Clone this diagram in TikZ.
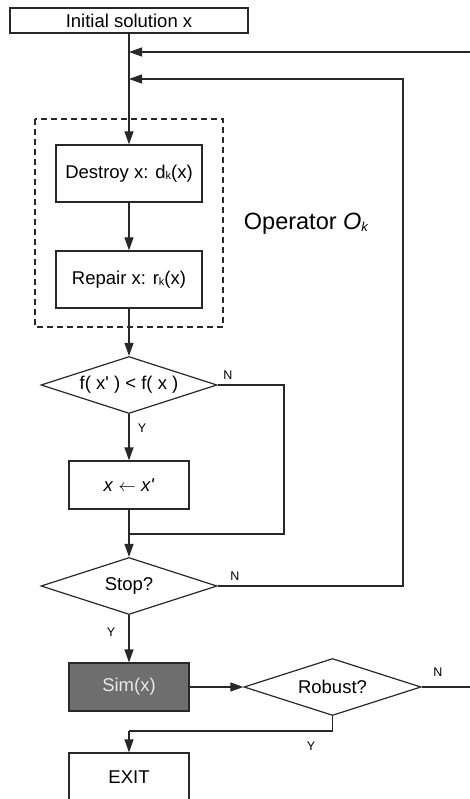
\documentclass[tikz,border=0pt]{standalone}
\usepackage{fontspec}
\setmainfont{Liberation Sans}
\usepackage{xcolor}
\usepackage{tikz}
\usetikzlibrary{shapes,shapes.geometric,arrows.meta,positioning,calc}
\definecolor{linegray}{RGB}{40, 40, 40}
\definecolor{simfill}{RGB}{110, 110, 110}
\definecolor{simtext}{RGB}{232, 232, 232}
\newcommand{\subk}{\raisebox{-1pt}{\fontsize{11}{11}\selectfont k}}

\begin{document}
\begin{tikzpicture}[x=1pt, y=-1pt,
    line width=1.2pt, draw=linegray,
    every node/.style={font=\fontsize{18.5}{22}\selectfont},
    procbox/.style={draw=linegray, rectangle, inner sep=0pt, minimum width=146pt, minimum height=57pt},
    smallbox/.style={draw=linegray, rectangle, inner sep=0pt, minimum width=120pt, minimum height=48pt},
    decision/.style={draw=linegray, diamond, aspect=3, inner sep=0pt, minimum width=176pt, minimum height=57pt},
    yn/.style={font=\fontsize{12.5}{14}\selectfont},
    flow/.style={-{Triangle[length=13pt, width=9pt]}}]
    \useasboundingbox (0,0) rectangle (470,799);

    % boxes of the heuristic
    \node[draw=linegray, rectangle, inner sep=0pt, minimum width=238pt, minimum height=25pt] (init) at (129,20.5) {Initial solution x};
    \node[procbox] (destroy) at (129,173.5) {Destroy x: d\subk(x)};
    \node[procbox] (repair) at (129,279.5) {Repair x: r\subk(x)};
    \draw[dash pattern=on 6pt off 4pt] (35,119) rectangle (223,327);
    \node[anchor=west, font=\fontsize{23.5}{26}\selectfont] (oplabel) at (240,224) {Operator \textit{O}\raisebox{-1.5pt}{\fontsize{13}{13}\selectfont\itshape k}};

    \node[decision] (accept) at (129,385) {f( x\textquotesingle{} ) < f( x )};
    \node[smallbox] (update) at (129,485) {\textit{x} $\leftarrow$ \textit{x\textquotesingle}};
    \node[decision] (stop) at (129,586) {Stop?};
    \node[smallbox, fill=simfill, text=simtext] (sim) at (129,687) {Sim(x)};
    \node[decision, minimum width=177pt] (robust) at (332.5,687) {Robust?};
    \node[smallbox] (exit) at (129,777) {EXIT};

    \coordinate (join) at (129,534);
    \coordinate (back1) at (129,52);
    \coordinate (back2) at (129,79);
    \coordinate (ydrop) at (129,731);

    % main flow
    \draw[flow] (init) -- (destroy);
    \draw[flow] (destroy) -- (repair);
    \draw[flow] (repair) -- (accept);
    \draw[flow] (accept) -- (update);
    \draw (update) -- (join);
    \draw[flow] (join) -- (stop);
    \draw[flow] (stop) -- (sim);
    \draw[flow] (sim) -- (robust);

    % branches
    \draw (accept.east) -| (284,534) -- (join);
    \draw[flow] (stop.east) -| (403,79) -- (back2);
    \draw[flow] (robust.east) -- (480,687) |- (back1);
    \draw (robust.south) |- (ydrop);
    \draw[flow] (ydrop) -- (exit);

    % Y / N labels
    \node[yn] (n1) at (228,375) {N};
    \node[yn] (y1) at (142,428) {Y};
    \node[yn] (n2) at (235,576) {N};
    \node[yn] (y2) at (111,632) {Y};
    \node[yn] (n3) at (438,672) {N};
    \node[yn] (y3) at (311,746) {Y};
\end{tikzpicture}
\end{document}
